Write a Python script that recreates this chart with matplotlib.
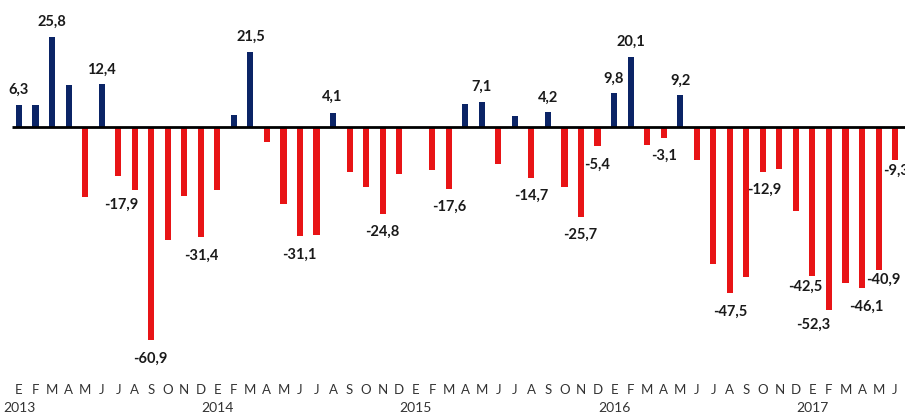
import matplotlib
matplotlib.use("Agg")
import matplotlib.pyplot as plt
import numpy as np

plt.rcParams['font.family'] = ['Lato', 'DejaVu Sans']

months = ["E", "F", "M", "A", "M", "J", "J", "A", "S", "O", "N", "D"]
years = ["2013", "2014", "2015", "2016", "2017"]

v2013 = [6.3, 6.3, 25.8, 12.0, -20.0, 12.4, -13.9, -17.9, -60.9, -32.2, -19.7, -31.4]
v2014 = [-18.0, 3.3, 21.5, -4.3, -21.9, -31.1, -30.9, 4.1, -12.8, -17.1, -24.8, -13.3]
v2015 = [0.0, -12.2, -17.6, 6.6, 7.1, -10.7, 3.1, -14.7, 4.2, -17.1, -25.7, -5.4]
v2016 = [9.8, 20.1, -5.0, -3.1, 9.2, -9.5, -39.0, -47.5, -42.7, -12.9, -11.9, -24.0]
v2017 = [-42.5, -52.3, -44.5, -46.1, -40.9, -9.3]

values = np.array(v2013 + v2014 + v2015 + v2016 + v2017)
labeled = [0, 2, 5, 7, 8, 11, 14, 17, 19, 22, 26, 28, 31, 32, 34, 35, 36, 37,
           39, 40, 43, 45, 48, 49, 51, 52, 53]

# label placement tweaks (pixels): x shift, gap from bar end to label centre
label_dx = {7: -13, 8: -1, 17: -1, 19: -1, 34: -1, 36: -1, 45: 1,
            48: -7, 49: -16, 51: 4, 52: 5, 53: 1}
label_gap = {5: 14, 8: 19, 11: 19, 17: 19, 19: 16, 31: 17, 35: 19, 36: 14,
             40: 14, 48: 11, 49: 15, 52: 10, 53: 11, 7: 15}

NAVY = "#0B2466"
RED = "#E81416"

fig = plt.figure(figsize=(9.05, 4.16), dpi=100)
ax = fig.add_axes([0, 40 / 416, 1, 376 / 416])

x = np.arange(len(values))
colors = [NAVY if v > 0 else RED for v in values]
ax.bar(x, values, width=0.37, color=colors, zorder=2)

ax.hlines(0, -0.45, len(values) + 2, color="black", linewidth=2, zorder=3)

px_per_unit = 3.5
ax.set_xlim(-19 / 16.53, (905 - 19) / 16.53)
ax.set_ylim(36.3 - 376 / px_per_unit, 36.3)

for i in labeled:
    v = values[i]
    dx = label_dx.get(i, 0) * 0.72
    gap = label_gap.get(i, 15 if v > 0 else 18) * 0.72
    dy = gap if v > 0 else -gap
    ax.annotate(f"{v:.1f}".replace(".", ","), xy=(i, v), xytext=(dx, dy),
                textcoords="offset points", ha="center", va="center",
                fontsize=10.5, fontweight="bold", color="#1a1a1a",
                zorder=5, annotation_clip=False)

ax.xaxis.remove_overlapping_locs = False
ax.set_xticks(x)
ax.set_xticklabels([months[i % 12] for i in range(len(values))],
                   fontsize=9.5, color="#333333")
jan_pos = x[::12]
ax.set_xticks(jan_pos, minor=True)
ax.set_xticklabels(years[:len(jan_pos)], minor=True, fontsize=10, color="#333333")
ax.tick_params(axis="x", which="major", length=0, pad=6)
ax.tick_params(axis="x", which="minor", length=0, pad=19)
ax.set_yticks([])
for s in ax.spines.values():
    s.set_visible(False)

fig.savefig("out.png", dpi=100)
